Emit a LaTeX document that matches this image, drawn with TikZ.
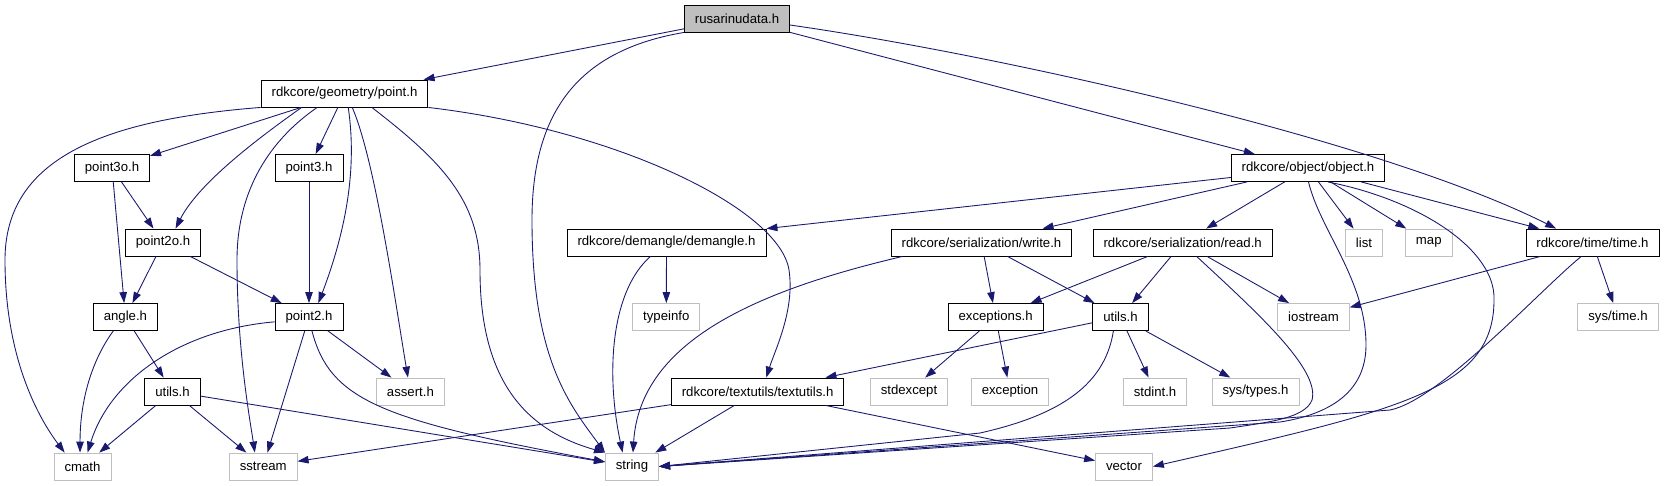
\documentclass[tikz,border=0pt]{standalone}
\usepackage{fontspec}
\setmainfont{Liberation Sans}
\usetikzlibrary{arrows.meta}

\definecolor{depblue}{RGB}{25,25,112}
\definecolor{boxgray}{RGB}{191,191,191}

\begin{document}
\begin{tikzpicture}[
    x=0.02cm, y=-0.02cm,
    % include graph styles
    file/.style={rectangle, draw=black, fill=white, line width=0.5pt, minimum height=0.54cm, inner xsep=0.21cm, inner ysep=0pt, font=\fontsize{7.5}{9}\selectfont},
    sysfile/.style={file, draw=boxgray},
    mainfile/.style={file, fill=boxgray},
    dep/.style={-{Triangle[length=0.22cm, width=0.15cm]}, draw=depblue, line width=0.5pt}
]

% Canvas
\fill[white] (0,0) rectangle (1664,485);
\useasboundingbox (0,0) rectangle (1664,485);

% Top file
\node[mainfile] (main) at (737, 18.5) {rusarinudata.h};

% Direct includes
\node[file] (point) at (344.5, 93.5) {rdkcore/geometry/point.h};
\node[file] (object) at (1308, 168) {rdkcore/object/object.h};

% Geometry headers
\node[file] (point3o) at (112, 168) {point3o.h};
\node[file] (point3) at (309, 168) {point3.h};
\node[file] (point2o) at (163, 242.5) {point2o.h};
\node[file] (angle) at (125.4, 317) {angle.h};
\node[file] (point2) at (309, 317) {point2.h};
\node[file] (utilsA) at (172.5, 391.5) {utils.h};

% Object headers
\node[file] (demangle) at (666.5, 242.5) {rdkcore/demangle/demangle.h};
\node[file] (write) at (981.5, 242.5) {rdkcore/serialization/write.h};
\node[file] (read) at (1182.7, 242.5) {rdkcore/serialization/read.h};
\node[file] (timeh) at (1592.5, 242.5) {rdkcore/time/time.h};
\node[file] (exceptions) at (995.6, 317) {exceptions.h};
\node[file] (utilsB) at (1120.5, 317) {utils.h};
\node[file] (textutils) at (757.6, 391.5) {rdkcore/textutils/textutils.h};

% System headers
\node[sysfile] (list) at (1364, 242.5) {list};
\node[sysfile] (map) at (1428.8, 242.5) {map};
\node[sysfile] (typeinfo) at (666.3, 317) {typeinfo};
\node[sysfile] (iostream) at (1313.5, 317) {iostream};
\node[sysfile] (systime) at (1618, 317) {sys/time.h};
\node[sysfile] (assert) at (410.4, 391.5) {assert.h};
\node[sysfile] (stdexcept) at (909, 391.5) {stdexcept};
\node[sysfile] (exception) at (1010, 391.5) {exception};
\node[sysfile] (stdint) at (1155, 391.5) {stdint.h};
\node[sysfile] (systypes) at (1255.5, 391.5) {sys/types.h};
\node[sysfile] (cmath) at (82.5, 466.5) {cmath};
\node[sysfile] (sstream) at (263.2, 466.5) {sstream};
\node[sysfile] (string) at (632, 466.5) {string};
\node[sysfile] (vector) at (1124, 466.5) {vector};

% rusarinudata.h
\draw[dep] (main) -- (point.10);
\draw[dep] (main.south west) .. controls (580,50) and (532,110) .. (532,220) .. controls (532,360) and (570,405) .. (string.north west);
\draw[dep] (main) -- (object);
\draw[dep] (main.-7) .. controls (1000,55) and (1380,140) .. (timeh.159);

% point.h
\draw[dep] (point.south west) .. controls (100,120) and (5,160) .. (5,260) .. controls (5,360) and (40,420) .. (cmath.142);
\draw[dep] (point) -- (point3o);
\draw[dep] (point.-162) .. controls (270,130) and (200,180) .. (point2o.48);
\draw[dep] (point.-153) .. controls (270,140) and (237,190) .. (237,260) .. controls (237,350) and (250,420) .. (sstream.121);
\draw[dep] (point) -- (point3);
\draw[dep] (point.-75) .. controls (356,160) and (350,220) .. (point2.56);
\draw[dep] (point.-61) .. controls (375,160) and (395,300) .. (assert.100);
\draw[dep] (point.-27) .. controls (440,160) and (480,200) .. (480,270) .. controls (480,380) and (525,430) .. (string.north west);
\draw[dep] (point.south east) .. controls (620,130) and (780,210) .. (789,270) .. controls (795,310) and (775,350) .. (textutils.58);

% geometry
\draw[dep] (point3o) -- (point2o);
\draw[dep] (point3o) -- (angle);
\draw[dep] (point3) -- (point2);
\draw[dep] (point2o) -- (angle);
\draw[dep] (point2o) -- (point2);
\draw[dep] (angle.-131) .. controls (92,360) and (80,400) .. (cmath.100);
\draw[dep] (angle) -- (utilsA);
\draw[dep] (point2.-172) .. controls (180,330) and (110,380) .. (cmath.70);
\draw[dep] (point2) -- (sstream);
\draw[dep] (point2) -- (assert);
\draw[dep] (point2.-78) .. controls (330,400) and (380,420) .. (string.170);
\draw[dep] (utilsA) -- (cmath);
\draw[dep] (utilsA) -- (sstream);
\draw[dep] (utilsA) -- (string);

% object.h
\draw[dep] (object.-173) -- (demangle.north east);
\draw[dep] (object) -- (write);
\draw[dep] (object) -- (read);
\draw[dep] (object.-88) .. controls (1320,230) and (1366,280) .. (1366,345) .. controls (1366,395) and (1325,415) .. (1280,422) -- (string.east);
\draw[dep] (object) -- (list);
\draw[dep] (object) -- (map);
\draw[dep] (object.-35) .. controls (1420,200) and (1496,250) .. (1494,300) .. controls (1494,390) and (1400,410) .. (vector.east);
\draw[dep] (object) -- (timeh);

% time.h
\draw[dep] (timeh) -- (iostream);
\draw[dep] (timeh.-129) .. controls (1540,290) and (1440,400) .. (1390,410) -- (string.east);
\draw[dep] (timeh) -- (systime);

% demangle.h, write.h, read.h
\draw[dep] (demangle) -- (typeinfo);
\draw[dep] (demangle.-139) .. controls (612,290) and (605,370) .. (string.124);
\draw[dep] (write.-170) .. controls (760,290) and (640,340) .. (string.86);
\draw[dep] (write) -- (exceptions);
\draw[dep] (write) -- (utilsB);
\draw[dep] (read) -- (exceptions);
\draw[dep] (read) -- (utilsB);
\draw[dep] (read) -- (iostream);
\draw[dep] (read.-45) .. controls (1260,315) and (1320,370) .. (1312,400) .. controls (1305,418) and (1270,422) .. (1230,428) -- (string.east);

% exceptions.h, utils.h
\draw[dep] (exceptions) -- (stdexcept);
\draw[dep] (exceptions) -- (exception);
\draw[dep] (utilsB) -- (textutils);
\draw[dep] (utilsB.-117) .. controls (1105,385) and (1060,415) .. (980,433) -- (string.east);
\draw[dep] (utilsB) -- (stdint);
\draw[dep] (utilsB) -- (systypes);

% textutils.h
\draw[dep] (textutils) -- (sstream);
\draw[dep] (textutils) -- (string);
\draw[dep] (textutils) -- (vector);

\end{tikzpicture}
\end{document}
